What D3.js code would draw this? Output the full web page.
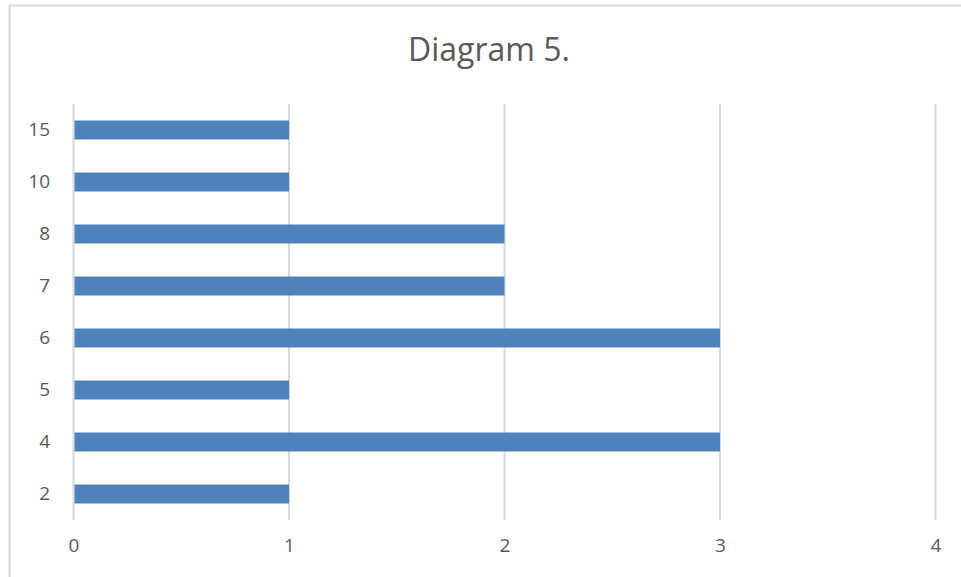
<!DOCTYPE html>
<html>
<head>
<meta charset="utf-8">
<script src="https://cdn.jsdelivr.net/npm/d3@7"></script>
<style>
  body { margin: 0; background: #fff; overflow: hidden; }
  svg { display: block; font-family: "Open Sans", sans-serif; }
</style>
</head>
<body>
<svg width="961" height="577"></svg>
<script>
const categories = ["2", "4", "5", "6", "7", "8", "10", "15"];
const values = [1, 3, 1, 3, 2, 2, 1, 1];
const xTicks = [0, 1, 2, 3, 4];
const title = "Diagram 5.";

const W = 961, H = 577;
const margin = {left: 73.5, right: 25.5, top: 104, bottom: 57};

const svg = d3.select("svg");

// chart area border (right and bottom edges fall outside the picture)
svg.append("rect")
  .attr("x", 9.5).attr("y", 5.5)
  .attr("width", 990).attr("height", 600)
  .attr("fill", "none")
  .attr("stroke", "#d9d9d9")
  .attr("stroke-width", 2);

const x = d3.scaleLinear()
  .domain([0, 4])
  .range([margin.left, W - margin.right]);

const y = d3.scaleBand()
  .domain(categories.slice().reverse())
  .range([margin.top, H - margin.bottom])
  .paddingInner(0.635)
  .paddingOuter(0.3175);

// gridlines
svg.append("g")
  .selectAll("line")
  .data(xTicks)
  .join("line")
  .attr("x1", d => x(d)).attr("x2", d => x(d))
  .attr("y1", margin.top).attr("y2", H - margin.bottom)
  .attr("stroke", "#d9d9d9")
  .attr("stroke-width", 2);

// bars
svg.append("g")
  .selectAll("rect")
  .data(categories)
  .join("rect")
  .attr("x", x(0) + 1)
  .attr("y", d => y(d))
  .attr("width", (d, i) => x(values[i]) - x(0) - 1)
  .attr("height", y.bandwidth())
  .attr("fill", "#4f81bd");

// y axis labels
const yAxis = d3.axisLeft(y).tickSize(0).tickPadding(0);
svg.append("g")
  .attr("transform", `translate(50,0)`)
  .call(yAxis)
  .call(g => g.select(".domain").remove())
  .selectAll("text")
  .attr("font-size", 19)
  .attr("font-family", "Open Sans, sans-serif")
  .attr("fill", "#595959");

// x axis labels
const xAxis = d3.axisBottom(x).tickValues(xTicks).tickFormat(d3.format("d"))
  .tickSize(0).tickPadding(0);
svg.append("g")
  .attr("transform", `translate(0,${H - margin.bottom + 18})`)
  .call(xAxis)
  .call(g => g.select(".domain").remove())
  .selectAll("text")
  .attr("font-size", 19)
  .attr("font-family", "Open Sans, sans-serif")
  .attr("fill", "#595959");

// title
svg.append("text")
  .text(title)
  .attr("x", 489)
  .attr("y", 61)
  .attr("text-anchor", "middle")
  .attr("font-size", 32)
  .attr("fill", "#595959");
</script>
</body>
</html>
